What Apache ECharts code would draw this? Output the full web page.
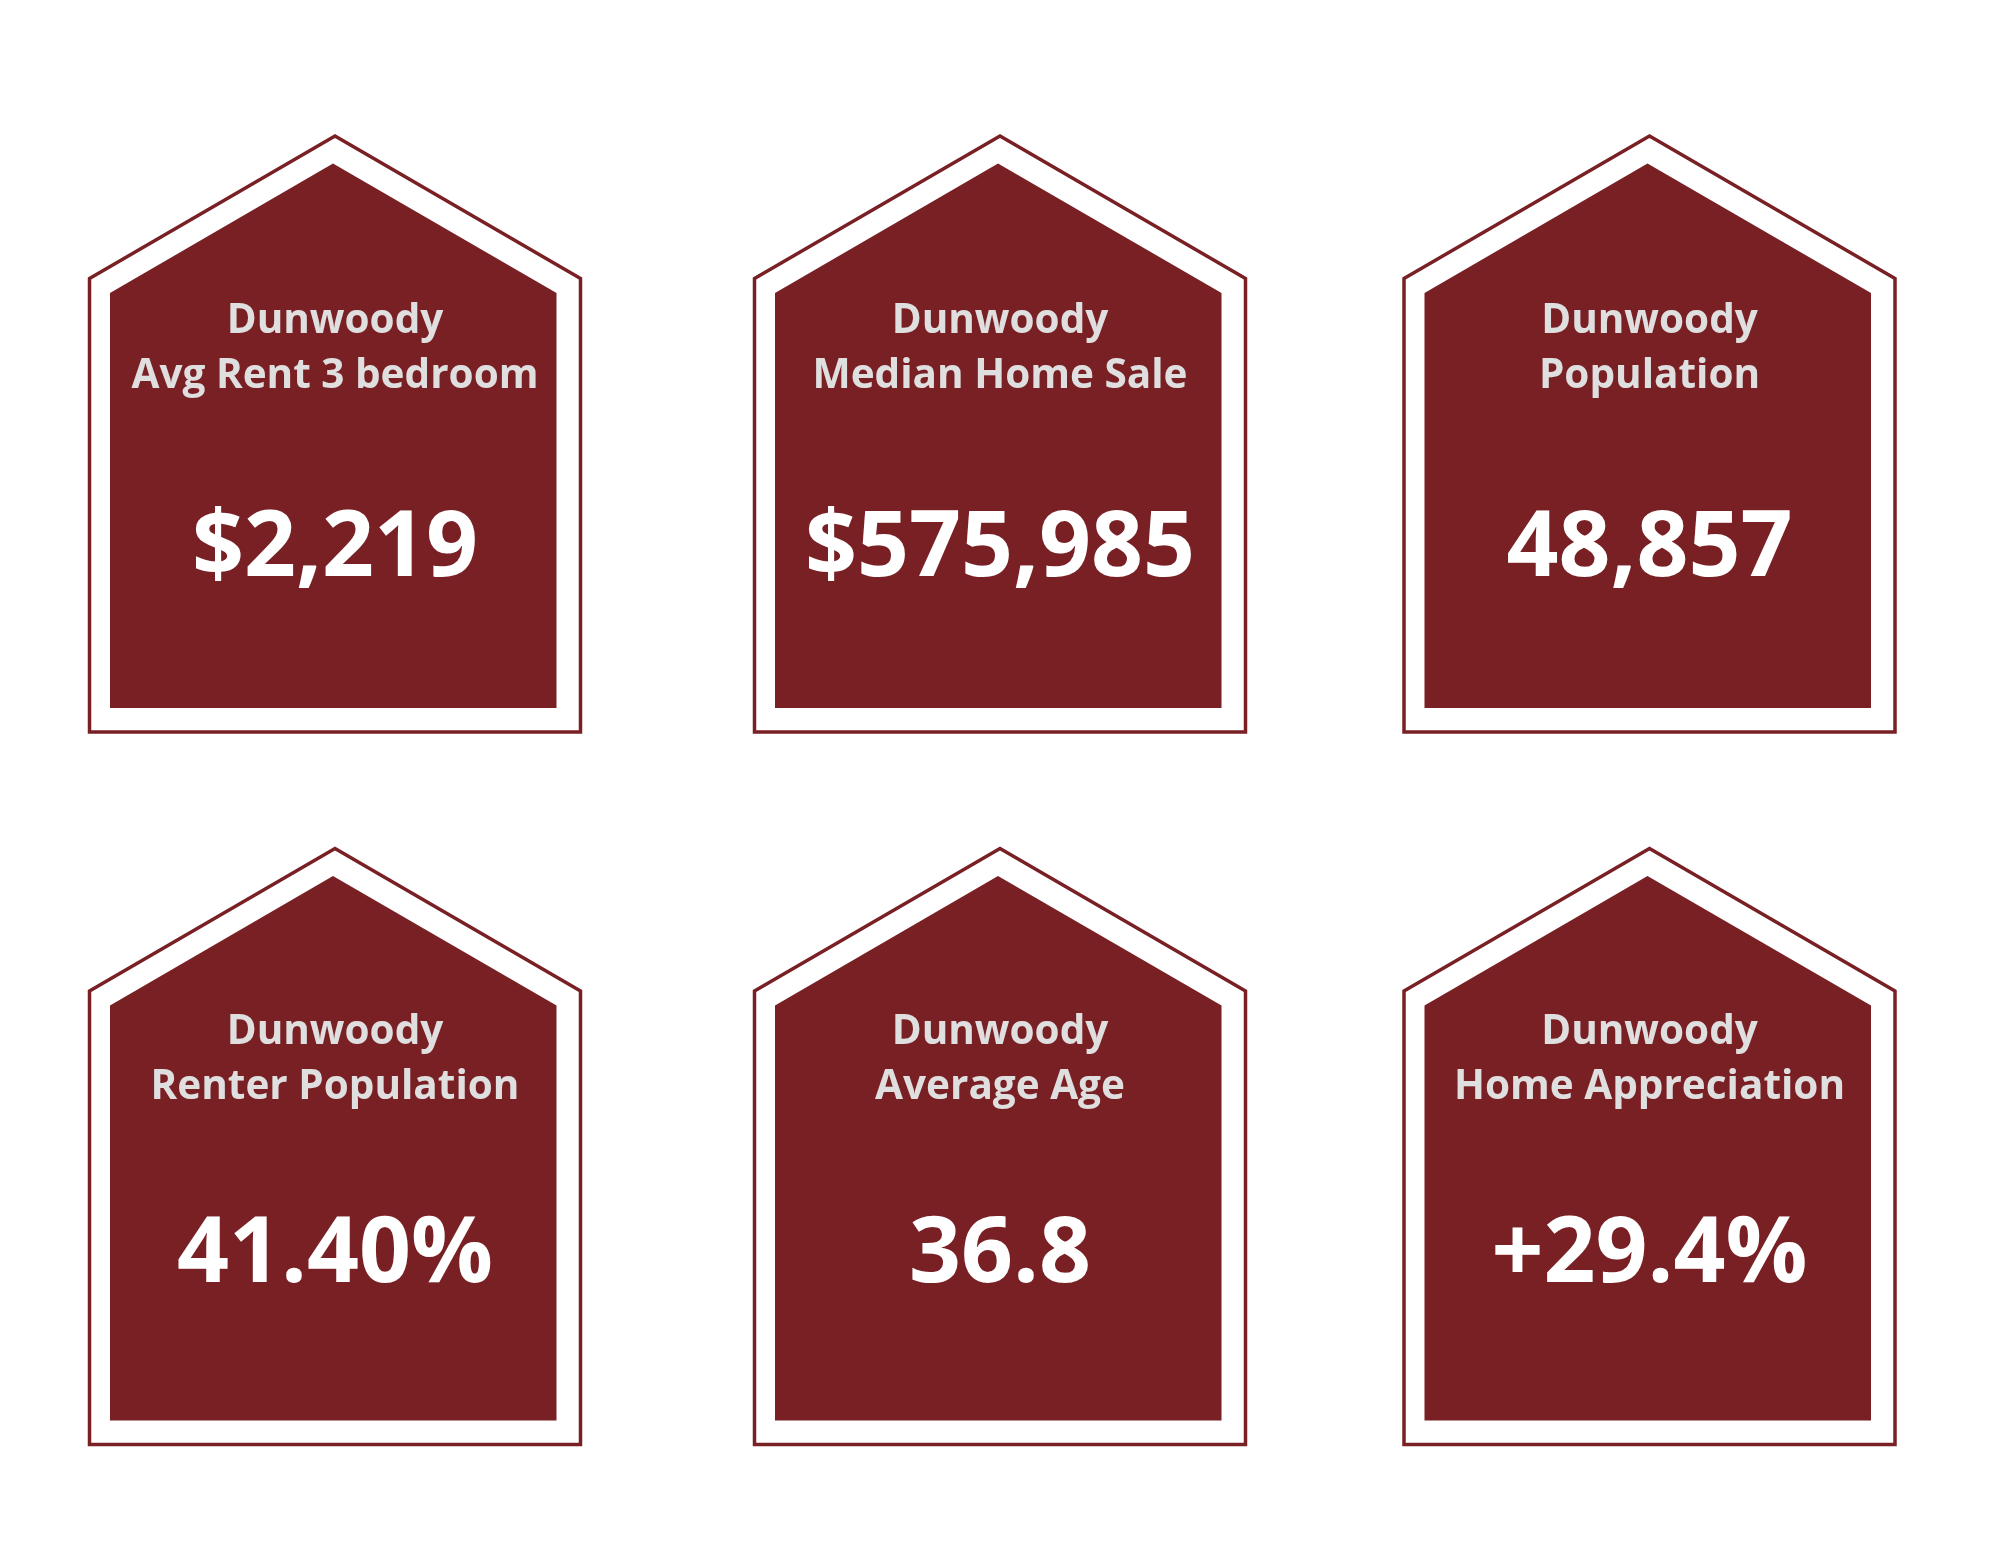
<!DOCTYPE html>
<html>
<head>
<meta charset="utf-8">
<title>Dunwoody</title>
<script src="https://cdn.jsdelivr.net/npm/echarts@6/dist/echarts.min.js"></script>
<style>
html, body { margin: 0; padding: 0; background: #fff; }
#chart { width: 2000px; height: 1545px; }
</style>
</head>
<body>
<div id="chart"></div>
<script>
var place = 'Dunwoody';
var metrics = ['Avg Rent 3 bedroom', 'Median Home Sale', 'Population', 'Renter Population', 'Average Age', 'Home Appreciation'];
var values = ['$2,219', '$575,985', '48,857', '41.40%', '36.8', '+29.4%'];
var columns = [0, 1, 2, 0, 1, 2];
var rows = [0, 0, 0, 1, 1, 1];

// layout, in page pixels
var colCentres = [335, 1000, 1649.5];
var rowTops = [136, 848.5];
var labelShift = [0, -1];
var valueOffsets = [414, 408];

var red = '#792025';
var labelGrey = '#e0dfe0';

var chart = echarts.init(document.getElementById('chart'));

var seriesData = metrics.map(function(m, i) {
    return [colCentres[columns[i]], rowTops[rows[i]], m, values[i], rows[i]];
});

function renderHouse(params, api) {
    var p = api.coord([api.value(0), api.value(1)]);
    var x = p[0], y = p[1];
    var row = api.value(4);
    var baseFont = '"Open Sans", sans-serif';
    return {
        type: 'group',
        children: [
            {
                type: 'polygon',
                shape: { points: [[x, y], [x + 245.5, y + 142.5], [x + 245.5, y + 596], [x - 245.5, y + 596], [x - 245.5, y + 142.5]] },
                style: { fill: '#fff', stroke: red, lineWidth: 3.5 }
            },
            {
                type: 'polygon',
                shape: { points: [[x - 2, y + 27.5], [x + 221.5, y + 157], [x + 221.5, y + 572], [x - 225, y + 572], [x - 225, y + 157]] },
                style: { fill: red }
            },
            {
                type: 'text',
                style: { x: x, y: y + 185 + labelShift[row], text: place, fill: labelGrey, align: 'center', verticalAlign: 'middle', font: '700 40.5px ' + baseFont }
            },
            {
                type: 'text',
                style: { x: x, y: y + 240 + labelShift[row], text: api.value(2), fill: labelGrey, align: 'center', verticalAlign: 'middle', font: '700 40.5px ' + baseFont }
            },
            {
                type: 'text',
                style: { x: x, y: y + valueOffsets[row], text: api.value(3), fill: '#fff', align: 'center', verticalAlign: 'middle', font: '700 91px ' + baseFont }
            }
        ]
    };
}

chart.setOption({
    animation: false,
    backgroundColor: '#fff',
    grid: { left: 0, right: 0, top: 0, bottom: 0 },
    xAxis: { type: 'value', min: 0, max: 2000, show: false },
    yAxis: { type: 'value', min: 0, max: 1545, inverse: true, show: false },
    series: [{
        type: 'custom',
        coordinateSystem: 'cartesian2d',
        renderItem: renderHouse,
        clip: false,
        data: seriesData
    }]
});
</script>
</body>
</html>
